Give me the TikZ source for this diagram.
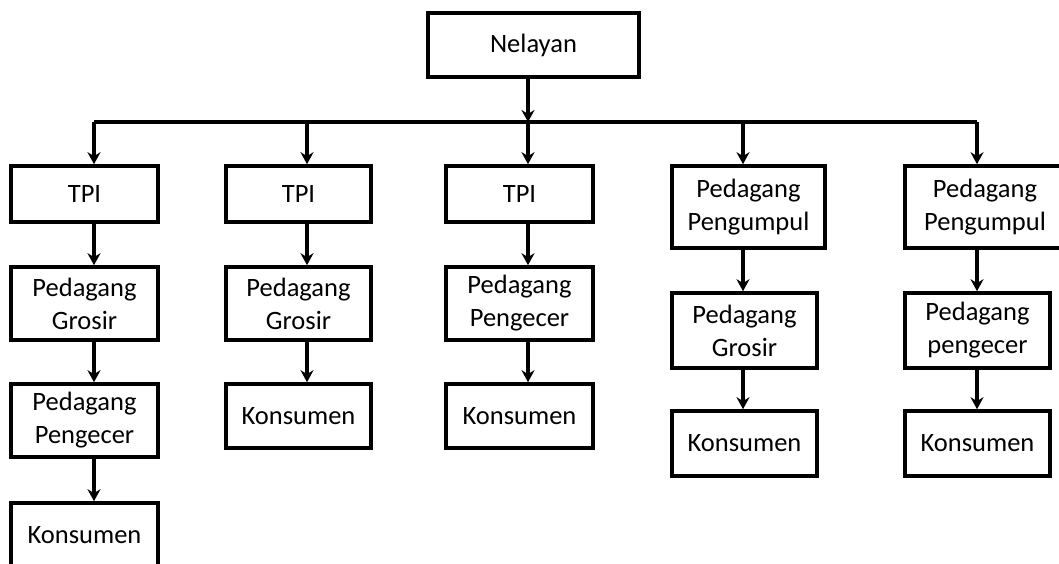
\documentclass[tikz,border=0pt]{standalone}
\usepackage{fontspec}
\setmainfont{Carlito}
\usetikzlibrary{arrows.meta}

\begin{document}
\begin{tikzpicture}[x=1pt,y=-1pt,->,>={Stealth[length=12pt,width=13pt]},line width=3.6pt]
    \tikzstyle{box}=[draw,->,line width=3.6pt,inner sep=0pt,align=center,font=\fontsize{26.5}{33}\selectfont]
    \tikzstyle{thin arrow}=[line width=3.2pt]
    \clip (0,0) rectangle (1059,563);

    % Top node
    \node[box,minimum width=211pt,minimum height=64pt] (n) at (533.5,45) {Nelayan};

    % Column 1
    \node[box,minimum width=147pt,minimum height=56pt] (t1) at (84.5,194) {TPI};
    \node[box,minimum width=147pt,minimum height=73pt] (g1) at (84.5,303.5) {Pedagang\\Grosir};
    \node[box,minimum width=147pt,minimum height=73pt] (e1) at (84.5,420.5) {Pedagang\\Pengecer};
    \node[box,minimum width=147pt,minimum height=65pt] (k1) at (84.5,535.5) {Konsumen};
    % Column 2
    \node[box,minimum width=145pt,minimum height=56pt] (t2) at (298.5,194) {TPI};
    \node[box,minimum width=145pt,minimum height=73pt] (g2) at (298.5,303.5) {Pedagang\\Grosir};
    \node[box,minimum width=145pt,minimum height=64pt] (k2) at (298.5,416) {Konsumen};
    % Column 3
    \node[box,minimum width=147pt,minimum height=56pt] (t3) at (519.5,194) {TPI};
    \node[box,minimum width=147pt,minimum height=73pt] (e3) at (519.5,303.5) {Pedagang\\Pengecer};
    \node[box,minimum width=147pt,minimum height=64pt] (k3) at (519.5,416) {Konsumen};
    % Column 4
    \node[box,minimum width=153pt,minimum height=82pt] (p4) at (748.5,207) {Pedagang\\Pengumpul};
    \node[box,minimum width=145pt,minimum height=75pt] (g4) at (744.5,330.5) {Pedagang\\Grosir};
    \node[box,minimum width=145pt,minimum height=65pt] (k4) at (744.5,443.5) {Konsumen};
    % Column 5
    \node[box,minimum width=160pt,minimum height=82pt] (p5) at (985,207) {Pedagang\\Pengumpul};
    \node[box,minimum width=145pt,minimum height=75pt] (e5) at (977.5,330.5) {Pedagang\\pengecer};
    \node[box,minimum width=145pt,minimum height=65pt] (k5) at (977.5,443.5) {Konsumen};

    % Branch line
    \coordinate (a1) at (94,122);
    \coordinate (a2) at (307,122);
    \coordinate (a3) at (528,122);
    \coordinate (a4) at (743,122);
    \coordinate (a5) at (977,122);
    \draw[-] (a1) -- (a5);
    \path (n.south -| a3) edge (a3);

    \path (a1) edge (t1.north -| a1);
    \path (a2) edge[thin arrow] (t2.north -| a2);
    \path (a3) edge (t3.north -| a3);
    \path (a4) edge[thin arrow] (p4.north -| a4);
    \path (a5) edge (p5.north -| a5);

    % Chains
    \path (t1.south -| a1) edge (g1.north -| a1);
    \path (g1.south -| a1) edge (e1.north -| a1);
    \path (e1.south -| a1) edge (k1.north -| a1);
    \path (t2.south -| a2) edge[thin arrow] (g2.north -| a2);
    \path (g2.south -| a2) edge[thin arrow] (k2.north -| a2);
    \path (t3.south -| a3) edge (e3.north -| a3);
    \path (e3.south -| a3) edge (k3.north -| a3);
    \path (p4.south -| a4) edge[thin arrow] (g4.north -| a4);
    \path (g4.south -| a4) edge[thin arrow] (k4.north -| a4);
    \path (p5.south -| a5) edge (e5.north -| a5);
    \path (e5.south -| a5) edge (k5.north -| a5);
\end{tikzpicture}
\end{document}
